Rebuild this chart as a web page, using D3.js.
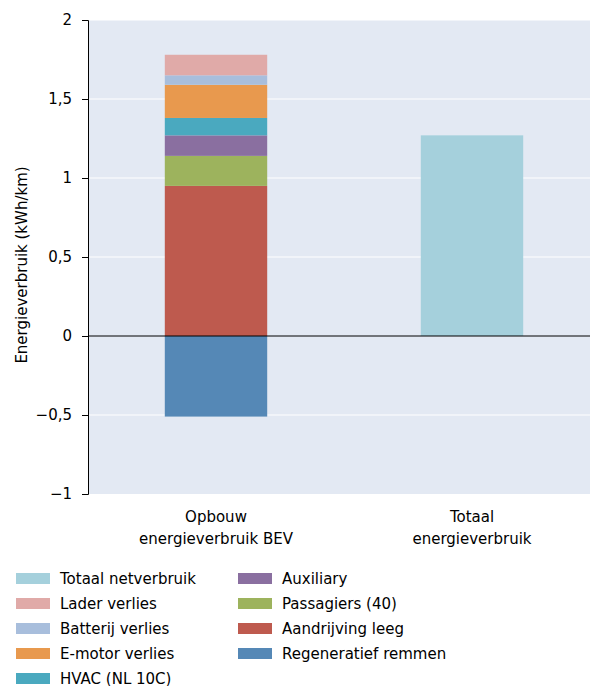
<!DOCTYPE html>
<html><head><meta charset="utf-8">
<script src="https://cdn.jsdelivr.net/npm/d3@7"></script>
<style>body{margin:0;background:#fff;font-family:"DejaVu Sans",sans-serif}</style>
</head><body><div id="chart"></div>
<script>
var categories = ["Opbouw\nenergieverbruik BEV", "Totaal\nenergieverbruik"]
// stacked components of first bar (bottom to top, positive part)
var components = ["Aandrijving leeg", "Passagiers (40)", "Auxiliary", "HVAC (NL 10C)", "E-motor verlies", "Batterij verlies", "Lader verlies"]
var compValues = [0.95, 0.19, 0.13, 0.11, 0.21, 0.06, 0.13]
var regenValue = -0.51
var totalValue = 1.27
var yTicks = [-1, -0.5, 0, 0.5, 1, 1.5, 2]
var legendItems = ["Totaal netverbruik", "Lader verlies", "Batterij verlies", "E-motor verlies", "HVAC (NL 10C)",
                   "Auxiliary", "Passagiers (40)", "Aandrijving leeg", "Regeneratief remmen"]
var colors = {
  "Totaal netverbruik": "#a5d0dc", "Lader verlies": "#e0aaa8", "Batterij verlies": "#a8bedc",
  "E-motor verlies": "#e8994e", "HVAC (NL 10C)": "#4aa9bf", "Auxiliary": "#8a6fa0",
  "Passagiers (40)": "#9db35d", "Aandrijving leeg": "#be5a4e", "Regeneratief remmen": "#5588b6"
}

var W = 590, H = 686
var svg = d3.select("#chart").append("svg").attr("width", W).attr("height", H)
var pLeft = 88, pRight = 600, pTop = 20, pBottom = 494

var x = d3.scaleBand().domain(categories).range([pLeft, pRight]).paddingInner(0.6).paddingOuter(0.3)
var y = d3.scaleLinear().domain([-1, 2]).range([pBottom, pTop])

svg.append("rect").attr("x", pLeft).attr("y", pTop).attr("width", pRight - pLeft).attr("height", pBottom - pTop).attr("fill", "#e3e9f3")
svg.selectAll(".grid").data(yTicks.filter(d => d != 0 && d != -1)).enter().append("line")
  .attr("x1", pLeft).attr("x2", pRight).attr("y1", d => y(d)).attr("y2", d => y(d))
  .attr("stroke", "#fff").attr("stroke-width", 1)

// stacked bar
var cum = 0
var stack = compValues.map(function(v, i){ var s = {name: components[i], y0: cum, y1: cum + v}; cum += v; return s })
stack.unshift({name: "Regeneratief remmen", y0: regenValue, y1: 0})
svg.selectAll(".seg").data(stack).enter().append("rect")
  .attr("x", x(categories[0])).attr("width", x.bandwidth())
  .attr("y", d => y(d.y1)).attr("height", d => y(d.y0) - y(d.y1))
  .attr("fill", d => colors[d.name])
svg.append("rect").attr("x", x(categories[1])).attr("width", x.bandwidth())
  .attr("y", y(totalValue)).attr("height", y(0) - y(totalValue)).attr("fill", colors["Totaal netverbruik"])

svg.append("line").attr("x1", pLeft).attr("x2", pRight).attr("y1", y(0)).attr("y2", y(0)).attr("stroke", "#000")

var fmt = d => d3.format("")(d).replace(".", ",").replace("-", "\u2212")
var ax = svg.append("g").attr("transform", "translate(" + pLeft + ",0)")
  .call(d3.axisLeft(y).tickValues(yTicks).tickFormat(fmt).tickSize(6).tickPadding(10))
ax.select(".domain").attr("stroke", "#000")
ax.selectAll("text").attr("font-size", 15).attr("fill", "#000").attr("font-family", "DejaVu Sans")

svg.append("text").attr("transform", "translate(27,265) rotate(-90)")
  .attr("text-anchor", "middle").attr("font-size", 15).text("Energieverbruik (kWh/km)")

categories.forEach(function(c){
  var lines = c.split("\n")
  lines.forEach(function(l, i){
    svg.append("text").attr("x", x(c) + x.bandwidth() / 2).attr("y", 522 + i * 22)
      .attr("text-anchor", "middle").attr("font-size", 15).text(l)
  })
})

var lg = svg.selectAll(".lg").data(legendItems).enter().append("g")
  .attr("transform", (d, i) => "translate(" + (i < 5 ? 16 : 238) + "," + (573 + (i % 5) * 25) + ")")
lg.append("rect").attr("width", 34).attr("height", 11).attr("fill", d => colors[d])
lg.append("text").attr("x", 44).attr("y", 11).attr("font-size", 15).text(d => d)
</script></body></html>
